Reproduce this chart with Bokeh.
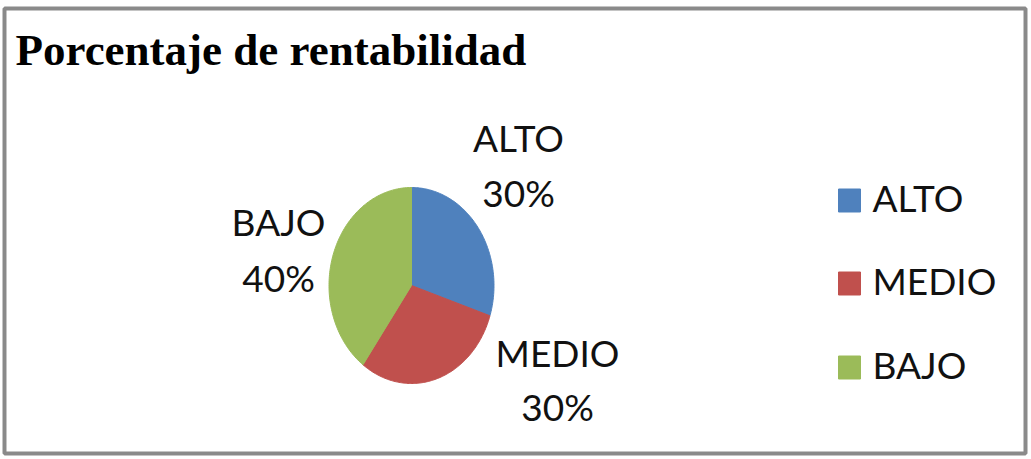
import numpy as np
from bokeh.plotting import figure
from bokeh.models import Range1d, ColumnDataSource
from bokeh.core.properties import value
from bokeh.embed import file_html
from bokeh.resources import INLINE

# ---- data ----
title_text = "Porcentaje de rentabilidad"
categories = ["ALTO", "MEDIO", "BAJO"]
percentages = [30, 30, 40]
colors = ["#4F81BD", "#C0504D", "#9BBB59"]

W, H = 1031, 459
p = figure(width=W, height=H, x_range=Range1d(0, W), y_range=Range1d(H, 0),
           min_border=0, toolbar_location=None, output_backend="svg",
           x_axis_location=None, y_axis_location=None,
           background_fill_color="white", border_fill_color="white")
p.grid.visible = False
p.outline_line_color = None

# chart border
p.quad(left=4, right=1025, top=8, bottom=453, fill_color=None,
       line_color="#8a8a8a", line_width=4)

# title
p.text(x=[15], y=[49], text=[title_text], text_font=value("Liberation Serif"),
       text_font_style="bold", text_font_size="45px", text_color="black",
       text_baseline="alphabetic", text_align="left")

# pie (elliptical, clockwise from 12 o'clock)
cx, cy, rx, ry = 411, 285, 82.5, 98
vals = np.array(percentages, dtype=float)
ends = np.cumsum(vals) / vals.sum() * 2 * np.pi
starts = ends - vals / vals.sum() * 2 * np.pi
xs, ys = [], []
for s, e in zip(starts, ends):
    t = np.linspace(s, e, 120)
    xs.append(np.concatenate([[cx], cx + rx * np.sin(t)]).tolist())
    ys.append(np.concatenate([[cy], cy - ry * np.cos(t)]).tolist())
p.patches(xs=xs, ys=ys, fill_color=colors, line_color=colors, line_width=1)

# data labels
FS = "37px"
off = 16
lab_x = [518, 557, 278]
name_y = [153, 368, 237]
pct_y = [208, 422, 293]
lab_src = ColumnDataSource(dict(
    x=lab_x, ny=[y - off for y in name_y], py=[y - off for y in pct_y],
    name=categories, pct=[f"{v}%" for v in percentages]))
font = value("Lato")
p.text(x="x", y="ny", text="name", source=lab_src, text_font=font,
       text_font_size=FS, text_color="#111111", text_align="center",
       text_baseline="alphabetic")
p.text(x="x", y="py", text="pct", source=lab_src, text_font=font,
       text_font_size=FS, text_color="#111111", text_align="center",
       text_baseline="alphabetic")

# legend
leg_y = [200, 283, 367]
leg_src = ColumnDataSource(dict(x=[849] * 3, y=leg_y, ty=[y + 13 - off for y in leg_y],
                                tx=[872] * 3, name=categories, color=colors))
p.rect(x="x", y="y", width=22, height=23, source=leg_src, fill_color="color",
       line_color="color")
p.text(x="tx", y="ty", text="name", source=leg_src, text_font=font,
       text_font_size=FS, text_color="#111111", text_align="left",
       text_baseline="alphabetic")

open("out.html", "w").write(file_html(p, INLINE))
